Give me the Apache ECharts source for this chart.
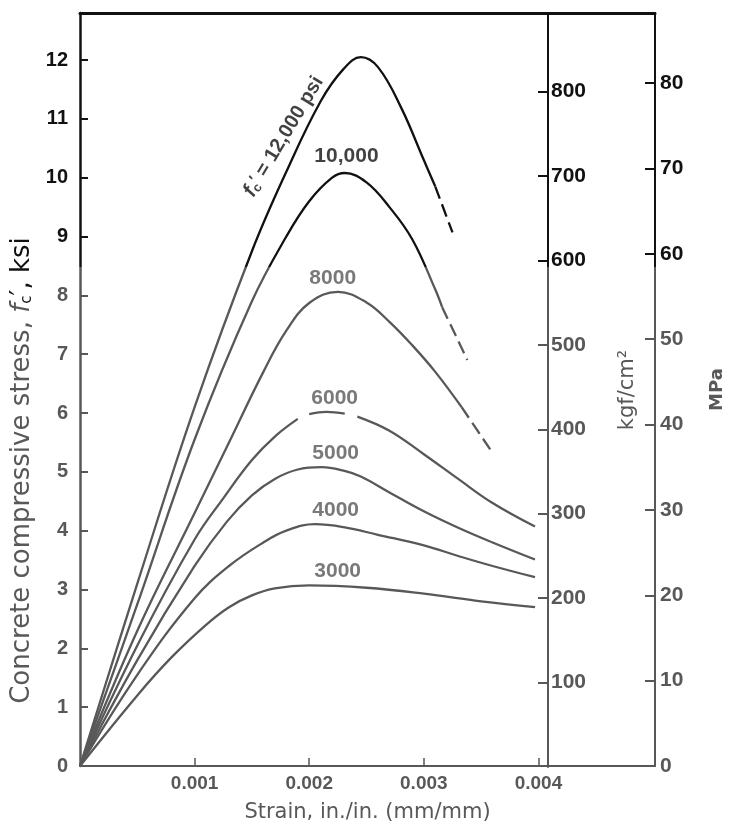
<!DOCTYPE html>
<html><head><meta charset="utf-8">
<script src="https://cdn.jsdelivr.net/npm/echarts@6/dist/echarts.min.js"></script>
<style>html,body{margin:0;padding:0;background:#fff}#c{width:734px;height:828px}</style>
</head><body><div id="c"></div>
<script>
// ---- data (strain in./in., stress ksi) ----
const curve12000 = [[0,0],[0.0005,3.1],[0.0010,6.1],[0.0015,8.75],[0.0018,10.1],[0.0021,11.3],[0.0023,11.85],[0.00245,12.05],[0.0026,11.88],[0.0028,11.2],[0.0030,10.3],[0.0031,9.85]];
const tail12000 = [[0.0031,9.85],[0.00325,9.07]];
const curve10000 = [[0,0],[0.0005,2.75],[0.0010,5.55],[0.0015,7.9],[0.0018,9.0],[0.0020,9.6],[0.0022,10.0],[0.00231,10.08],[0.0025,9.92],[0.0027,9.5],[0.0029,8.95],[0.0031,8.1],[0.00316,7.8]];
const tail10000 = [[0.00316,7.8],[0.00338,6.9]];
const curve8000 = [[0,0],[0.0005,2.3],[0.0010,4.3],[0.0013,5.5],[0.0016,6.7],[0.0018,7.4],[0.0020,7.87],[0.00225,8.06],[0.0025,7.88],[0.0027,7.55],[0.0029,7.15],[0.0031,6.7],[0.00333,6.1]];
const tail8000 = [[0.00333,6.1],[0.00359,5.35]];
const curve6000a = [[0,0],[0.0005,2.05],[0.0010,3.85],[0.00125,4.55],[0.0015,5.2],[0.0017,5.6],[0.0019,5.9]];
const curve6000b = [[0.0020,5.98],[0.00215,6.02],[0.00231,5.99]];
const curve6000c = [[0.00242,5.94],[0.0027,5.7],[0.0030,5.3],[0.0033,4.88],[0.0036,4.47],[0.00397,4.07]];
const curve5000 = [[0,0],[0.0005,1.8],[0.0010,3.4],[0.00128,4.15],[0.0015,4.6],[0.0017,4.88],[0.0019,5.04],[0.00211,5.08],[0.0023,5.02],[0.00245,4.92],[0.0027,4.65],[0.0030,4.33],[0.0033,4.05],[0.0036,3.8],[0.00397,3.51]];
const curve4000 = [[0,0],[0.0005,1.55],[0.0010,2.85],[0.0013,3.4],[0.0016,3.8],[0.0018,4.0],[0.00205,4.11],[0.0023,4.06],[0.0026,3.93],[0.0030,3.75],[0.0033,3.57],[0.0036,3.4],[0.00397,3.21]];
const curve3000 = [[0,0],[0.0005,1.2],[0.0008,1.85],[0.0011,2.4],[0.0013,2.7],[0.0015,2.9],[0.0017,3.02],[0.0020,3.07],[0.0025,3.03],[0.0030,2.93],[0.0035,2.8],[0.00397,2.70]];

const labelNames  = ['10,000','8000','6000','5000','4000','3000'];
const labelStrain = [0.002325,0.002205,0.002222,0.002231,0.002231,0.002248];
const labelStress = [10.37,8.30,6.25,5.31,4.35,3.31];
const topLabelPos = [0.001778,10.70];

const xTicks = [0.001,0.002,0.003,0.004];
const ksiTicks = [0,1,2,3,4,5,6,7,8,9,10,11,12];
const kgfTicks = [100,200,300,400,500,600,700,800];
const mpaTicks = [0,10,20,30,40,50,60,70,80];

// ---- style ----
const BLACK = '#111';
const GRAY = '#585858';
const T = 267/828;
const NUMFONT = 'Liberation Sans';
const TITLEFONT = 'DejaVu Sans';
const bw = () => new echarts.graphic.LinearGradient(0,0,0,828,[
  {offset:0,color:BLACK},{offset:T,color:BLACK},{offset:T+0.0005,color:GRAY},{offset:1,color:GRAY}],true);

const X_MAX = 0.004*(667-80)/(548-80);

function line(data, dashed){
  return {type:'line', data:data, xAxisIndex:0, yAxisIndex:0, symbol:'none', showSymbol:false,
    smooth:0.4, silent:true,
    lineStyle:{color:bw(), width:2.3, type: dashed ? [13,6] : 'solid'}};
}

const chart = echarts.init(document.getElementById('c'), null, {renderer:'canvas'});
const labelData = labelNames.map((n,i)=>({value:[labelStrain[i],labelStress[i]], name:n,
  label:{color: labelStress[i] > 8.6 ? BLACK : GRAY}}));

chart.setOption({
  animation:false,
  backgroundColor:'#fff',
  grid:[{left:80,right:67,top:13,bottom:61},{left:80,right:186,top:13,bottom:61}],
  xAxis:[
    {type:'value',gridIndex:0,min:0,max:X_MAX,position:'bottom',
     axisLine:{onZero:false,lineStyle:{color:GRAY,width:2}},
     axisTick:{inside:true,length:8,customValues:xTicks,lineStyle:{color:GRAY,width:1.5}},
     axisLabel:{customValues:xTicks,formatter:v=>v.toFixed(3),fontSize:19,fontWeight:'bold',color:GRAY,margin:8,fontFamily:NUMFONT},
     splitLine:{show:false},
     name:'Strain, in./in. (mm/mm)',nameLocation:'middle',nameGap:36,
     nameTextStyle:{fontSize:21,color:GRAY,fontFamily:TITLEFONT}},
    {type:'value',gridIndex:0,min:0,max:X_MAX,position:'top',
     axisLine:{onZero:false,lineStyle:{color:BLACK,width:3}},
     axisTick:{show:false},axisLabel:{show:false},splitLine:{show:false}},
    {type:'value',gridIndex:1,min:0,max:1,show:false,axisLine:{onZero:false}}
  ],
  yAxis:[
    {type:'value',gridIndex:0,min:0,max:12.8,position:'left',
     axisLine:{show:true,onZero:false,lineStyle:{color:bw(),width:2.5}},
     axisTick:{show:true,inside:true,length:8,customValues:ksiTicks,lineStyle:{color:bw(),width:2}},
     axisLabel:{customValues:ksiTicks,fontSize:20,fontWeight:'bold',margin:12,fontFamily:NUMFONT,
       color:(v)=> v>=9 ? BLACK : GRAY},
     splitLine:{show:false},
     name:'{g|Concrete compressive stress, }{i|f}{s|c}{k|′, ksi}',nameLocation:'middle',nameGap:40,
     nameTextStyle:{fontSize:26,color:GRAY,fontFamily:TITLEFONT,padding:[0,162,0,0],
       rich:{g:{fontSize:26,color:GRAY,fontFamily:TITLEFONT},
             i:{fontSize:26,color:GRAY,fontStyle:'italic',fontFamily:TITLEFONT},
             s:{fontSize:15,color:BLACK,fontFamily:TITLEFONT,verticalAlign:'bottom'},
             k:{fontSize:26,color:BLACK,fontFamily:TITLEFONT}}}},
    {type:'value',gridIndex:0,min:0,max:88.2,position:'right',
     axisLine:{show:true,onZero:false,lineStyle:{color:bw(),width:2}},
     axisTick:{show:true,inside:true,length:10,customValues:mpaTicks,lineStyle:{color:bw(),width:2}},
     axisLabel:{customValues:mpaTicks,fontSize:21,fontWeight:'bold',margin:5,fontFamily:NUMFONT,
       color:(v)=> v>=60 ? BLACK : GRAY},
     splitLine:{show:false},
     name:'MPa',nameLocation:'middle',nameGap:53,
     nameTextStyle:{fontSize:18,color:GRAY,fontFamily:TITLEFONT,fontWeight:'bold'}},
    {type:'value',gridIndex:1,min:0,max:893,position:'right',
     axisLine:{show:true,onZero:false,lineStyle:{color:bw(),width:2}},
     axisTick:{show:true,inside:true,length:10,customValues:kgfTicks,lineStyle:{color:bw(),width:2}},
     axisLabel:{customValues:kgfTicks,fontSize:21,fontWeight:'bold',margin:3,fontFamily:NUMFONT,
       color:(v)=> v>=600 ? BLACK : GRAY},
     splitLine:{show:false},
     name:'kgf/cm²',nameLocation:'middle',nameGap:69,
     nameTextStyle:{fontSize:21,color:GRAY,fontFamily:TITLEFONT}}
  ],
  series:[
    line(curve12000), line(tail12000,true),
    line(curve10000), line(tail10000,true),
    line(curve8000), line(tail8000,true),
    line(curve6000a), line(curve6000b), line(curve6000c),
    line(curve5000), line(curve4000), line(curve3000),
    {type:'scatter',xAxisIndex:0,yAxisIndex:0,symbolSize:0,silent:true,data:labelData,
     label:{show:true,position:'inside',formatter:'{b}',fontSize:21,fontWeight:'bold',fontFamily:NUMFONT}},
    {type:'scatter',xAxisIndex:0,yAxisIndex:0,symbolSize:0,silent:true,data:[{value:topLabelPos,name:'12000'}],
     label:{show:true,position:'inside',rotate:59,color:BLACK,
       formatter:'{i|f}{s|c}{p|′}{n| = 12,000 psi}',
       rich:{i:{fontSize:21,fontStyle:'italic',fontWeight:'bold',color:BLACK,fontFamily:NUMFONT},
             s:{fontSize:13,fontWeight:'bold',color:BLACK,verticalAlign:'bottom',fontFamily:NUMFONT},
             p:{fontSize:16,fontWeight:'bold',color:BLACK,verticalAlign:'top',fontFamily:NUMFONT},
             n:{fontSize:20,fontWeight:'bold',color:BLACK,fontFamily:NUMFONT}}}}
  ]
});
</script>
</body></html>
